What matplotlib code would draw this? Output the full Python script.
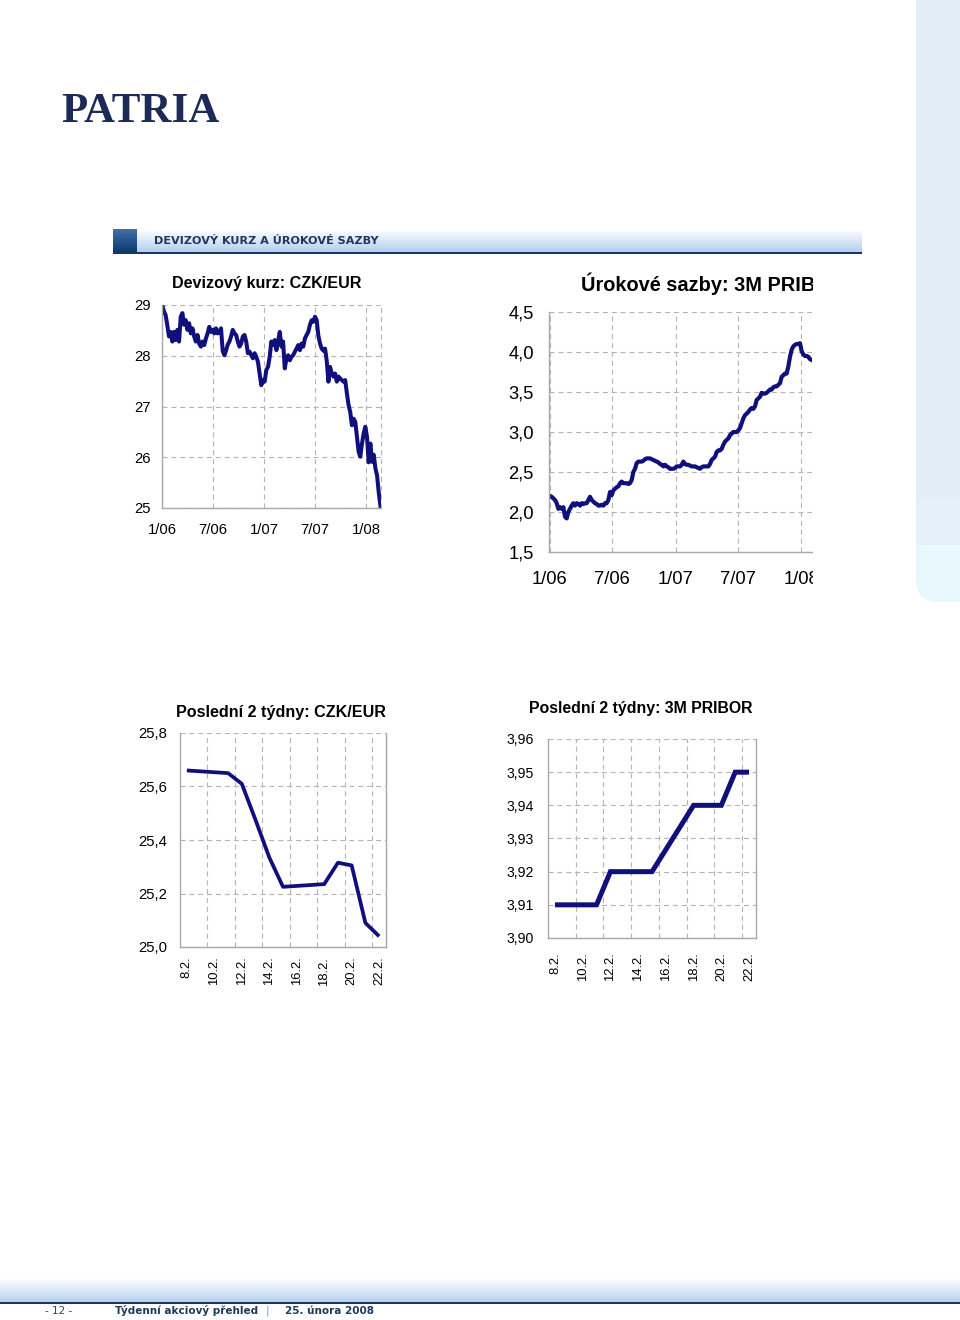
import numpy as np
import pandas as pd
import matplotlib
matplotlib.use('Agg')
import matplotlib.pyplot as plt
from matplotlib.patches import Rectangle, FancyBboxPatch

plt.rcParams['font.family'] = ['Liberation Sans', 'DejaVu Sans']

# ---------------- data ----------------
# CZK/EUR, long history (evenly spaced dates)
czk_start, czk_end = '2006-01-02', '2008-02-22'
czk_values = [
    29.00, 28.87, 28.80, 28.60, 28.38, 28.47, 28.28, 28.47, 28.31, 28.51,
    28.28, 28.77, 28.84, 28.61, 28.70, 28.51, 28.64, 28.44, 28.54, 28.38,
    28.28, 28.41, 28.24, 28.18, 28.28, 28.21, 28.34, 28.44, 28.57, 28.47,
    28.51, 28.44, 28.54, 28.44, 28.47, 28.54, 28.10, 28.01, 28.10, 28.22,
    28.28, 28.38, 28.51, 28.44, 28.41, 28.28, 28.18, 28.24, 28.38, 28.41,
    28.28, 28.05, 28.08, 28.01, 27.95, 28.05, 27.98, 27.88, 27.65, 27.42,
    27.52, 27.49, 27.72, 27.78, 27.98, 28.28, 28.21, 28.31, 28.11, 28.28,
    28.47, 28.18, 28.28, 27.75, 27.95, 28.01, 27.91, 27.98, 28.01, 28.08,
    28.14, 28.21, 28.11, 28.24, 28.18, 28.34, 28.41, 28.47, 28.61, 28.70,
    28.67, 28.77, 28.70, 28.40, 28.24, 28.14, 28.10, 28.14, 27.90, 27.49,
    27.78, 27.65, 27.59, 27.65, 27.49, 27.59, 27.55, 27.52, 27.49, 27.52,
    27.26, 27.03, 26.89, 26.63, 26.76, 26.70, 26.40, 26.11, 26.01, 26.27,
    26.47, 26.60, 26.40, 25.90, 26.27, 25.91, 26.05, 25.78, 25.64, 25.30,
    25.04,
]
czk_yticks = [25, 26, 27, 28, 29]
czk_ytick_labels = ['25', '26', '27', '28', '29']

# 3M PRIBOR, long history (visible part of the chart)
pribor_start, pribor_end = '2006-01-02', '2008-01-31'
pribor_values = [
    2.20, 2.19, 2.17, 2.15, 2.11, 2.04, 2.06, 2.04, 2.06, 1.94,
    1.92, 2.00, 2.04, 2.08, 2.11, 2.08, 2.11, 2.10, 2.08, 2.11,
    2.10, 2.11, 2.11, 2.15, 2.19, 2.15, 2.13, 2.11, 2.10, 2.08,
    2.08, 2.09, 2.08, 2.11, 2.11, 2.15, 2.25, 2.21, 2.27, 2.29,
    2.31, 2.32, 2.36, 2.38, 2.36, 2.36, 2.36, 2.35, 2.36, 2.40,
    2.50, 2.54, 2.61, 2.63, 2.63, 2.63, 2.64, 2.66, 2.67, 2.67,
    2.67, 2.66, 2.65, 2.64, 2.63, 2.62, 2.60, 2.59, 2.57, 2.59,
    2.57, 2.56, 2.54, 2.54, 2.54, 2.55, 2.57, 2.57, 2.57, 2.59,
    2.63, 2.60, 2.59, 2.59, 2.58, 2.57, 2.57, 2.57, 2.56, 2.55,
    2.54, 2.56, 2.57, 2.57, 2.57, 2.57, 2.60, 2.65, 2.67, 2.69,
    2.75, 2.77, 2.77, 2.79, 2.84, 2.88, 2.90, 2.92, 2.96, 2.98,
    3.00, 3.00, 3.00, 3.02, 3.05, 3.11, 3.17, 3.21, 3.23, 3.25,
    3.28, 3.30, 3.29, 3.32, 3.40, 3.42, 3.44, 3.49, 3.48, 3.48,
    3.49, 3.51, 3.53, 3.53, 3.56, 3.57, 3.57, 3.59, 3.61, 3.69,
    3.71, 3.73, 3.73, 3.82, 3.94, 4.03, 4.07, 4.09, 4.10, 4.10,
    4.11, 4.01, 3.97, 3.95, 3.95, 3.94, 3.91, 3.90,
]
pribor_yticks = [1.5, 2.0, 2.5, 3.0, 3.5, 4.0, 4.5]
pribor_ytick_labels = ['1,5', '2,0', '2,5', '3,0', '3,5', '4,0', '4,5']

long_tick_dates = ['2006-01-01', '2006-07-01', '2007-01-01', '2007-07-01', '2008-01-01']
long_tick_labels = ['1/06', '7/06', '1/07', '7/07', '1/08']

# last two weeks
week_dates = ['2008-02-08', '2008-02-11', '2008-02-12', '2008-02-13', '2008-02-14',
              '2008-02-15', '2008-02-18', '2008-02-19', '2008-02-20', '2008-02-21',
              '2008-02-22']
week_czk = [25.66, 25.65, 25.61, 25.475, 25.335, 25.225, 25.235, 25.315, 25.305, 25.09, 25.04]
week_pribor = [3.91, 3.91, 3.92, 3.92, 3.92, 3.92, 3.94, 3.94, 3.94, 3.95, 3.95]
week_tick_dates = ['2008-02-08', '2008-02-10', '2008-02-12', '2008-02-14',
                   '2008-02-16', '2008-02-18', '2008-02-20', '2008-02-22']
week_tick_labels = ['8.2.', '10.2.', '12.2.', '14.2.', '16.2.', '18.2.', '20.2.', '22.2.']
week_czk_yticks = [25.0, 25.2, 25.4, 25.6, 25.8]
week_czk_ylabels = ['25,0', '25,2', '25,4', '25,6', '25,8']
week_pr_yticks = [3.90, 3.91, 3.92, 3.93, 3.94, 3.95, 3.96]
week_pr_ylabels = ['3,90', '3,91', '3,92', '3,93', '3,94', '3,95', '3,96']

# ---------------- styling ----------------
W, H = 960, 1320
NAVY = '#10107c'
GRID = '#b4b4b4'
SPINE = '#a8a8a8'
DARK = '#1c3560'

fig = plt.figure(figsize=(W / 100, H / 100), dpi=100)
fig.patch.set_facecolor('white')


def px_axes(l, t, r, b, **kw):
    return fig.add_axes([l / W, 1 - b / H, (r - l) / W, (b - t) / H], **kw)


def ftext(x, y, s, **kw):
    return fig.text(x / W, 1 - y / H, s, **kw)


# background layer (pixel coordinates)
bg = px_axes(0, 0, W, H)
bg.set_xlim(0, W)
bg.set_ylim(H, 0)
bg.axis('off')

# right decorative band
bg.add_patch(FancyBboxPatch((916, -60), 80, 662, boxstyle='round,pad=0,rounding_size=24',
                            facecolor='#e3edf8', edgecolor='none'))
bg.add_patch(FancyBboxPatch((916, 500), 80, 102, boxstyle='round,pad=0,rounding_size=24',
                            facecolor='#e9f8fd', edgecolor='none'))
bg.add_patch(Rectangle((916, 500), 80, 45, facecolor='#e5f1f9', edgecolor='none'))


def vgrad(ax, x0, x1, y0, y1, c0, c1, n=64):
    c0 = np.array(matplotlib.colors.to_rgb(c0))
    c1 = np.array(matplotlib.colors.to_rgb(c1))
    t = np.linspace(0, 1, n)[:, None, None]
    img = c0 * (1 - t) + c1 * t
    ax.imshow(img, extent=(x0, x1, y1, y0), aspect='auto', interpolation='bilinear', zorder=1)


# header band
vgrad(bg, 137, 862, 229, 252, '#ffffff', '#b4cfee')
vgrad(bg, 113, 137, 229, 252, '#3f70ae', '#0f3a6d')
bg.add_patch(Rectangle((113, 252), 749, 2.2, facecolor=DARK, edgecolor='none', zorder=2))
# footer band
vgrad(bg, 0, W, 1278, 1302, '#ffffff', '#b7d2ef')
bg.add_patch(Rectangle((0, 1302), W, 2.2, facecolor=DARK, edgecolor='none', zorder=2))
bg.set_xlim(0, W)
bg.set_ylim(H, 0)

# logo and texts
ftext(61, 112, 'PATRIA', fontsize=31, family=['Liberation Serif', 'DejaVu Serif'],
      fontweight='bold', color='#1b2a56', va='center', ha='left')
ftext(154, 241.5, 'DEVIZOVÝ KURZ A ÚROKOVÉ SAZBY', fontsize=8.1, family=['DejaVu Sans'],
      fontweight='bold', color='#1f3760', va='center', ha='left')
ftext(45, 1311, '- 12 -', fontsize=7.5, family=['DejaVu Sans'], color='#2b4868', va='center')
ftext(115, 1311, 'Týdenní akciový přehled', fontsize=7.5, family=['DejaVu Sans'],
      fontweight='bold', color='#1f3a5c', va='center')
ftext(266, 1311, '|', fontsize=8, family=['DejaVu Sans'], color='#6f9bd0', va='center')
ftext(285, 1311, '25. února 2008', fontsize=7.5, family=['DejaVu Sans'],
      fontweight='bold', color='#1f3a5c', va='center')


def style(ax, right=False):
    ax.spines['top'].set_visible(False)
    ax.spines['right'].set_visible(right)
    for s in ['left', 'bottom', 'right']:
        ax.spines[s].set_color(SPINE)
        ax.spines[s].set_linewidth(1.0)
    ax.tick_params(which='both', length=0, colors='black')
    ax.set_axisbelow(True)


dash = (0, (4.5, 3.5))

# ---- chart 1: CZK/EUR long ----
ax1 = px_axes(162, 305, 381, 508)
style(ax1)
czk_dates = pd.date_range(czk_start, czk_end, periods=len(czk_values))
ax1.plot(czk_dates, czk_values, color=NAVY, lw=2.9, solid_joinstyle='round')
x1r = pd.Timestamp('2008-02-24')
ax1.set_xlim(pd.Timestamp('2006-01-01'), x1r)
ax1.set_ylim(25, 29)
ax1.set_yticks(czk_yticks)
ax1.set_yticklabels(czk_ytick_labels, fontsize=10.7)
ax1.set_xticks(pd.to_datetime(long_tick_dates))
ax1.set_xticklabels(long_tick_labels, fontsize=10.7)
ax1.tick_params(axis='x', pad=11)
ax1.tick_params(axis='y', pad=8)
ax1.grid(True, color=GRID, linestyle=dash, linewidth=0.8)
ax1.axvline(x1r, color=GRID, linestyle=dash, linewidth=0.8, clip_on=False)
ftext(267, 283.5, 'Devizový kurz: CZK/EUR', fontsize=11.6, fontweight='bold', ha='center', va='center')

# ---- chart 2: PRIBOR long (cropped on the right) ----
ax2 = px_axes(549, 312, 812, 552)
style(ax2)
pribor_dates = pd.date_range(pribor_start, pribor_end, periods=len(pribor_values))
ax2.plot(pribor_dates, pribor_values, color=NAVY, lw=3.0, solid_joinstyle='round')
ax2.set_xlim(pd.Timestamp('2005-12-30'), pd.Timestamp('2008-02-01'))
ax2.set_ylim(1.5, 4.5)
ax2.set_yticks(pribor_yticks)
ax2.set_yticklabels(pribor_ytick_labels, fontsize=13.2)
ax2.set_xticks(pd.to_datetime(long_tick_dates))
ax2.set_xticklabels(long_tick_labels, fontsize=13.2)
ax2.tick_params(axis='x', pad=14)
ax2.tick_params(axis='y', pad=11)
ax2.grid(True, color=GRID, linestyle=dash, linewidth=0.8)
ftext(581, 284, 'Úrokové sazby: 3M PRIBOR', fontsize=14.4, fontweight='bold', ha='left', va='center')

# ---- chart 3: CZK/EUR last two weeks ----
wk = pd.to_datetime(week_dates)
wticks = pd.to_datetime(week_tick_dates)
wminor = wticks[:-1] + pd.Timedelta(hours=36)
wlim = (pd.Timestamp('2008-02-07 12:00'), pd.Timestamp('2008-02-22 12:00'))

ax3 = px_axes(180, 733, 386, 947)
style(ax3, right=True)
ax3.plot(wk, week_czk, color=NAVY, lw=2.7, solid_joinstyle='round', solid_capstyle='butt')
ax3.set_xlim(*wlim)
ax3.set_ylim(25.0, 25.8)
ax3.set_yticks(week_czk_yticks)
ax3.set_yticklabels(week_czk_ylabels, fontsize=10.7)
ax3.set_xticks(wticks)
ax3.set_xticklabels(week_tick_labels, fontsize=9.4, rotation=90)
ax3.set_xticks(wminor, minor=True)
ax3.tick_params(axis='x', pad=7)
ax3.tick_params(axis='y', pad=9)
ax3.grid(True, axis='y', color=GRID, linestyle=dash, linewidth=0.8)
ax3.grid(True, axis='x', which='minor', color=GRID, linestyle=dash, linewidth=0.8)
ftext(281, 712, 'Poslední 2 týdny: CZK/EUR', fontsize=11.6, fontweight='bold', ha='center', va='center')

# ---- chart 4: PRIBOR last two weeks ----
ax4 = px_axes(548, 739, 756, 938)
style(ax4, right=True)
ax4.plot(wk, week_pribor, color=NAVY, lw=3.6, solid_joinstyle='miter', solid_capstyle='butt')
ax4.set_xlim(*wlim)
ax4.set_ylim(3.90, 3.96)
ax4.set_yticks(week_pr_yticks)
ax4.set_yticklabels(week_pr_ylabels, fontsize=10.2)
ax4.set_xticks(wticks)
ax4.set_xticklabels(week_tick_labels, fontsize=9.4, rotation=90)
ax4.set_xticks(wminor, minor=True)
ax4.tick_params(axis='x', pad=10)
ax4.tick_params(axis='y', pad=10)
ax4.grid(True, axis='y', color=GRID, linestyle=dash, linewidth=0.8)
ax4.grid(True, axis='x', which='minor', color=GRID, linestyle=dash, linewidth=0.8)
ftext(641, 709, 'Poslední 2 týdny: 3M PRIBOR', fontsize=11.4, fontweight='bold', ha='center', va='center')

# foreground: crop of the PRIBOR chart on its right side
fg = px_axes(0, 0, W, H)
fg.set_zorder(10)
fg.patch.set_alpha(0)
fg.set_xlim(0, W)
fg.set_ylim(H, 0)
fg.axis('off')
fg.add_patch(Rectangle((813, 262), 101, 338, facecolor='white', edgecolor='none'))

fig.savefig('out.png', dpi=100, facecolor='white')
